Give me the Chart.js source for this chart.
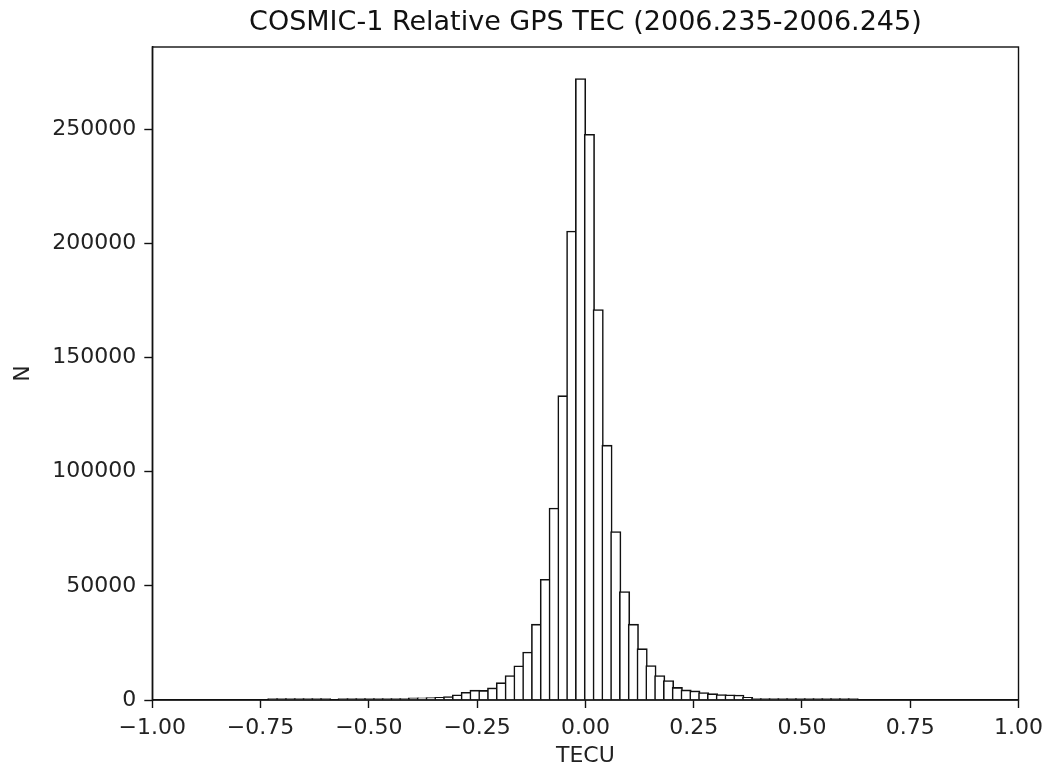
<!DOCTYPE html>
<html>
<head>
<meta charset="utf-8">
<script src="https://cdn.jsdelivr.net/npm/chart.js@4"></script>
<style>
  html, body { margin: 0; padding: 0; background: #fff; }
  canvas { display: block; }
</style>
</head>
<body>
<canvas id="c" width="1050" height="773"></canvas>
<script>
// Histogram bin centres (TECU), bin width ~0.0203
const binCenters = [
  -0.7217, -0.7014, -0.6811, -0.6608, -0.6405, -0.6202, -0.5999, -0.5796,
  -0.5593, -0.5390, -0.5187, -0.4984, -0.4781, -0.4578, -0.4375, -0.4172,
  -0.3969, -0.3766, -0.3563, -0.3360, -0.3157, -0.2954, -0.2751, -0.2548,
  -0.2345, -0.2142, -0.1939, -0.1736, -0.1533, -0.1330, -0.1127, -0.0924,
  -0.0721, -0.0518, -0.0315, -0.0112, 0.0092, 0.0295, 0.0498, 0.0701,
  0.0904, 0.1107, 0.1310, 0.1513, 0.1716, 0.1919, 0.2122, 0.2325,
  0.2528, 0.2731, 0.2934, 0.3137, 0.3340, 0.3543, 0.3746, 0.3949,
  0.4152, 0.4355, 0.4558, 0.4761, 0.4964, 0.5167, 0.5370, 0.5573,
  0.5776, 0.5979, 0.6182
];
// Counts per bin (N)
const counts = [
  650, 650, 650, 650, 650, 650, 650, 0,
  650, 650, 650, 650, 650, 650, 650, 650,
  900, 1000, 1100, 1200, 1500, 2300, 3400, 4300,
  4200, 5300, 7600, 10700, 15000, 21000, 33200, 52900,
  84100, 133300, 205400, 272200, 247800, 171000, 111600, 73800,
  47500, 33200, 22500, 15100, 10700, 8500, 5500, 4400,
  4000, 3300, 2800, 2400, 2300, 2200, 1200, 650,
  650, 650, 650, 650, 650, 650, 650, 650,
  650, 650, 650
];
const xTickValues = [-1.0, -0.75, -0.5, -0.25, 0.0, 0.25, 0.5, 0.75, 1.0];
const yTickValues = [0, 50000, 100000, 150000, 200000, 250000];

const titleText = 'COSMIC-1 Relative GPS TEC (2006.235-2006.245)';
const xLabel = 'TECU';
const yLabel = 'N';

const FONT = 'DejaVu Sans';
const INK = '#111';
const points = binCenters.map((x, i) => ({ x: x, y: counts[i] }));

const spines = {
  id: 'spines',
  afterDraw(chart) {
    const a = chart.chartArea, ctx = chart.ctx;
    ctx.save();
    ctx.strokeStyle = INK;
    ctx.lineWidth = 1.4;
    ctx.strokeRect(a.left, a.top, a.right - a.left, a.bottom - a.top);
    ctx.restore();
  }
};

new Chart(document.getElementById('c'), {
  type: 'bar',
  data: {
    datasets: [{
      data: points,
      backgroundColor: '#ffffff',
      borderColor: INK,
      borderWidth: 1.6,
      barThickness: 10.4,
      borderSkipped: 'start'
    }]
  },
  options: {
    responsive: false,
    animation: false,
    devicePixelRatio: 1,
    layout: { padding: { left: 0, right: 29.3, top: 0, bottom: 0 } },
    plugins: {
      legend: { display: false },
      tooltip: { enabled: false },
      title: {
        display: true,
        text: titleText,
        fullSize: false,
        color: INK,
        font: { family: FONT, size: 27, weight: 'normal', lineHeight: 1.2 },
        padding: { top: 7, bottom: 7.6 }
      }
    },
    scales: {
      x: {
        type: 'linear',
        min: -1,
        max: 1,
        offset: false,
        afterFit(s) { s.height = 73; },
        afterBuildTicks(s) { s.ticks = xTickValues.map(v => ({ value: v })); },
        grid: { display: true, drawOnChartArea: false, drawTicks: true, tickLength: 8, tickColor: INK, tickWidth: 1.4, offset: false },
        border: { display: true, color: INK, width: 1.4 },
        ticks: {
          color: '#222',
          padding: 7,
          maxRotation: 0,
          autoSkip: false,
          font: { family: FONT, size: 22 },
          callback: v => v.toFixed(2).replace('-', '\u2212')
        },
        title: {
          display: true,
          text: xLabel,
          color: '#222',
          font: { family: FONT, size: 22, lineHeight: 1.2 },
          padding: { top: 0, bottom: 4 }
        }
      },
      y: {
        type: 'linear',
        min: 0,
        max: 286000,
        afterFit(s) { s.width = 152.3; },
        afterBuildTicks(s) { s.ticks = yTickValues.map(v => ({ value: v })); },
        grid: { display: true, drawOnChartArea: false, drawTicks: true, tickLength: 8, tickColor: INK, tickWidth: 1.4 },
        border: { display: true, color: INK, width: 1.4 },
        ticks: {
          color: '#222',
          padding: 8,
          autoSkip: false,
          font: { family: FONT, size: 22 },
          callback: v => String(v)
        },
        title: {
          display: true,
          text: yLabel,
          color: '#222',
          font: { family: FONT, size: 22, lineHeight: 1.2 },
          padding: { top: 10, bottom: 0 }
        }
      }
    }
  },
  plugins: [spines]
});
</script>
</body>
</html>
